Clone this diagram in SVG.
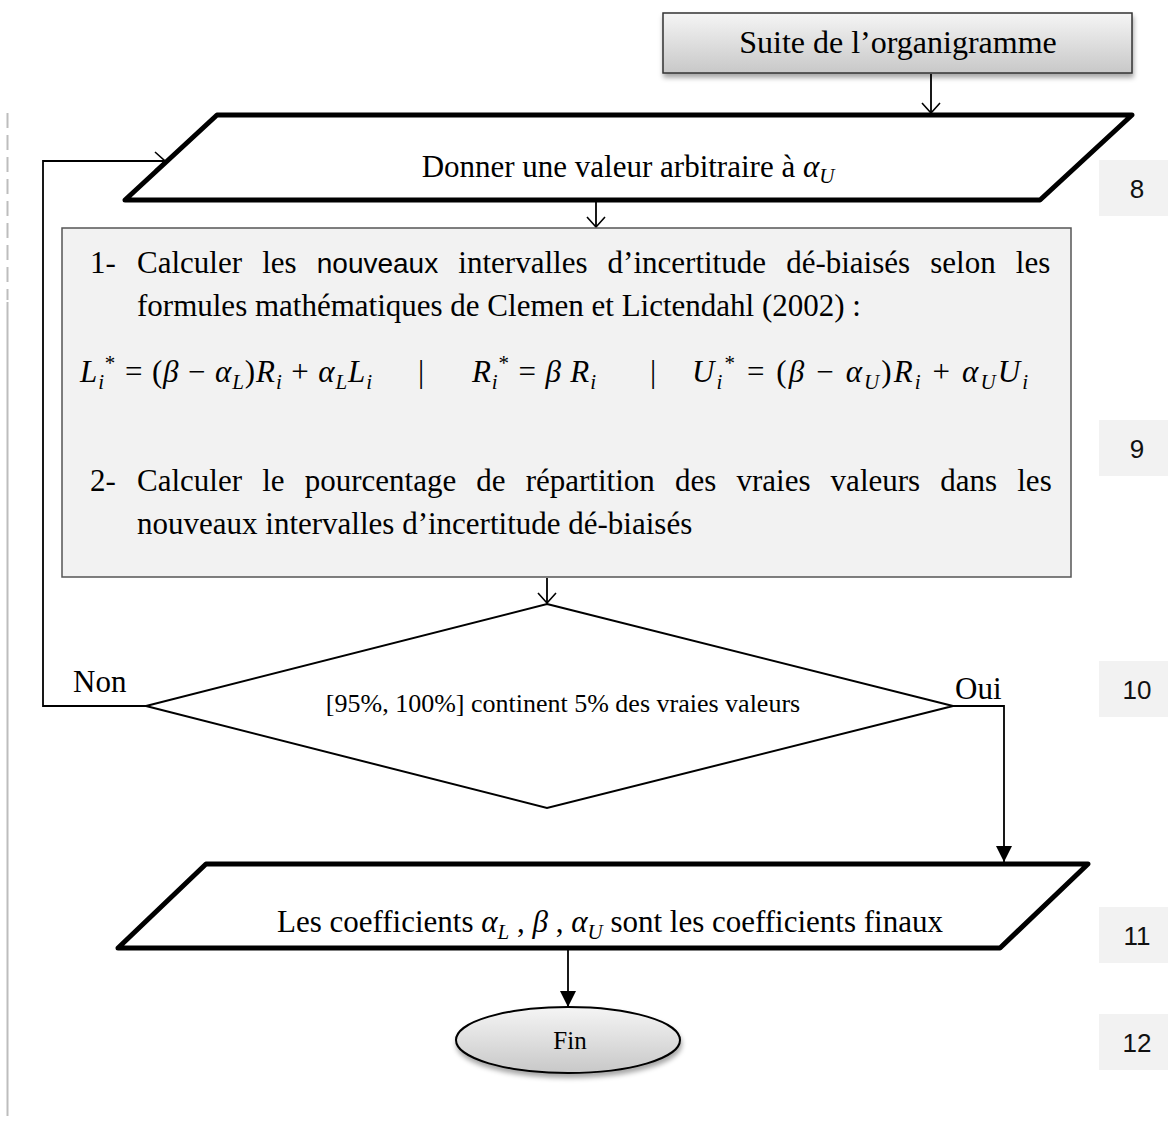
<svg xmlns="http://www.w3.org/2000/svg" width="1168" height="1124" viewBox="0 0 1168 1124">
<style>
  .t { font-family: "Liberation Serif", "Times New Roman", serif; fill: #000; }
  .body { font-size: 31px; }
  .m { font-family: "Liberation Serif", "Times New Roman", serif; font-style: italic; }
  .num { font-family: "Liberation Sans", Arial, sans-serif; font-size: 26px; fill: #111; text-anchor: middle; }
  .numbox { fill: #f2f2f2; }
  .para { fill: #fff; stroke: #000; stroke-width: 5; stroke-linejoin: round; }
  .conn { fill: none; stroke: #000; stroke-width: 1.8; }
</style>
<defs>
  <linearGradient id="gGray" x1="0" y1="0" x2="0" y2="1">
    <stop offset="0" stop-color="#f5f5f5"/>
    <stop offset="1" stop-color="#c8c8c8"/>
  </linearGradient>
  <filter id="shadow" x="-10%" y="-30%" width="120%" height="170%">
    <feDropShadow dx="1" dy="4" stdDeviation="2.5" flood-color="#000" flood-opacity="0.35"/>
  </filter>
  <marker id="vOpen" markerUnits="userSpaceOnUse" viewBox="0 0 12 20" refX="11" refY="10" markerWidth="12" markerHeight="20" orient="auto">
    <path d="M1,1 L11,10 L1,19" fill="none" stroke="#000" stroke-width="1.6"/>
  </marker>
  <marker id="vFill" markerUnits="userSpaceOnUse" viewBox="0 0 16 16" refX="16" refY="8" markerWidth="16" markerHeight="16" orient="auto">
    <path d="M0,0 L16,8 L0,16 z" fill="#000"/>
  </marker>
</defs>

<rect width="1168" height="1124" fill="#fff"/>

<!-- left margin line -->
<line x1="7.5" y1="113" x2="7.5" y2="300" stroke="#bdbdbd" stroke-width="2" stroke-dasharray="15 7"/>
<line x1="7.5" y1="302" x2="7.5" y2="1116" stroke="#bdbdbd" stroke-width="2"/>

<!-- step numbers -->
<g id="num8"><rect class="numbox" x="1099" y="160" width="69" height="56"/><text class="num" x="1137" y="198">8</text></g>
<g id="num9"><rect class="numbox" x="1099" y="420" width="69" height="56"/><text class="num" x="1137" y="458">9</text></g>
<g id="num10"><rect class="numbox" x="1099" y="661" width="69" height="56"/><text class="num" x="1137" y="699">10</text></g>
<g id="num11"><rect class="numbox" x="1099" y="907" width="69" height="56"/><text class="num" x="1137" y="945">11</text></g>
<g id="num12"><rect class="numbox" x="1099" y="1014" width="69" height="56"/><text class="num" x="1137" y="1052">12</text></g>

<!-- connectors -->
<g id="connectors">
  <path class="conn" d="M931,74 L931,113" marker-end="url(#vOpen)"/>
  <path class="conn" d="M596,201 L596,227" marker-end="url(#vOpen)"/>
  <path class="conn" d="M547,578 L547,603" marker-end="url(#vOpen)"/>
  <path class="conn" d="M146,706 L43,706 L43,161 L165,161" marker-end="url(#vOpen)"/>
  <path class="conn" d="M953,706 L1004,706 L1004,862" marker-end="url(#vFill)"/>
  <path class="conn" d="M568,949 L568,1007" marker-end="url(#vFill)"/>
  <text class="t body" x="73" y="692">Non</text>
  <text class="t body" x="955" y="699">Oui</text>
</g>

<!-- Suite de l'organigramme -->
<g id="suite">
  <rect x="663" y="13" width="469" height="60" fill="url(#gGray)" stroke="#333" stroke-width="1.5" filter="url(#shadow)"/>
  <text class="t" font-size="32" x="898" y="53" text-anchor="middle">Suite de l’organigramme</text>
</g>

<!-- Donner une valeur -->
<g id="donner">
  <polygon class="para" points="217,115 1132,115 1040,200 125,200"/>
  <text class="t body" x="628" y="177" text-anchor="middle">Donner une valeur arbitraire à <tspan class="m">α</tspan><tspan class="m" font-size="21" dy="6">U</tspan></text>
</g>

<!-- Calcul box -->
<g id="calcul">
  <rect x="62" y="228" width="1009" height="349" fill="#f2f2f2" stroke="#555" stroke-width="1.5"/>
  <text class="t body" x="90" y="273">1-</text>
  <text class="t body" x="137" y="273" word-spacing="12.4">Calculer les <tspan font-family="Liberation Sans, Arial, sans-serif" font-size="28">nouveaux</tspan> intervalles d’incertitude dé-biaisés selon les</text>
  <text class="t body" x="137" y="316">formules mathématiques de Clemen et Lictendahl (2002) :</text>

  <text class="t body" x="80" y="382" textLength="292" lengthAdjust="spacing"><tspan class="m">L</tspan><tspan class="m" font-size="21" dy="7">i</tspan><tspan font-size="21" dy="-19">*</tspan><tspan dy="12"> =  (</tspan><tspan class="m">β</tspan> − <tspan class="m">α</tspan><tspan class="m" font-size="21" dy="7">L</tspan><tspan dy="-7">)</tspan><tspan class="m">R</tspan><tspan class="m" font-size="21" dy="7">i</tspan><tspan dy="-7"> + </tspan><tspan class="m">α</tspan><tspan class="m" font-size="21" dy="7">L</tspan><tspan class="m" dy="-7">L</tspan><tspan class="m" font-size="21" dy="7">i</tspan></text>
  <text class="t body" x="418" y="382">|</text>
  <text class="t body" x="472" y="382" textLength="124" lengthAdjust="spacing"><tspan class="m">R</tspan><tspan class="m" font-size="21" dy="7">i</tspan><tspan font-size="21" dy="-19">*</tspan><tspan dy="12"> =  </tspan><tspan class="m">β R</tspan><tspan class="m" font-size="21" dy="7">i</tspan></text>
  <text class="t body" x="650" y="382">|</text>
  <text class="t body" x="692" y="382" textLength="336" lengthAdjust="spacing"><tspan class="m">U</tspan><tspan class="m" font-size="21" dy="7">i</tspan><tspan font-size="21" dy="-19">*</tspan><tspan dy="12"> =  (</tspan><tspan class="m">β</tspan> − <tspan class="m">α</tspan><tspan class="m" font-size="21" dy="7">U</tspan><tspan dy="-7">)</tspan><tspan class="m">R</tspan><tspan class="m" font-size="21" dy="7">i</tspan><tspan dy="-7"> + </tspan><tspan class="m">α</tspan><tspan class="m" font-size="21" dy="7">U</tspan><tspan class="m" dy="-7">U</tspan><tspan class="m" font-size="21" dy="7">i</tspan></text>

  <text class="t body" x="90" y="491">2-</text>
  <text class="t body" x="137" y="491" word-spacing="12.4">Calculer le pourcentage de répartition des vraies valeurs dans les</text>
  <text class="t body" x="137" y="534">nouveaux intervalles d’incertitude dé-biaisés</text>
</g>

<!-- Decision -->
<g id="decision">
  <polygon points="547,604 953,706 547,808 146,706" fill="#fff" stroke="#000" stroke-width="2"/>
  <text class="t" font-size="26" x="563" y="712" text-anchor="middle">[95%, 100%] continent 5% des vraies valeurs</text>
</g>

<!-- Final coefficients -->
<g id="coefficients">
  <polygon class="para" points="206,864 1088,864 1000,948 118,948"/>
  <text class="t body" x="610" y="932" text-anchor="middle">Les coefficients  <tspan class="m">α</tspan><tspan class="m" font-size="21" dy="7">L</tspan><tspan dy="-7"> , </tspan><tspan class="m">β</tspan> , <tspan class="m">α</tspan><tspan class="m" font-size="21" dy="7">U</tspan><tspan dy="-7">  sont les coefficients finaux</tspan></text>
</g>

<!-- Fin -->
<g id="fin">
  <ellipse cx="568" cy="1040" rx="112" ry="33" fill="url(#gGray)" stroke="#000" stroke-width="2" filter="url(#shadow)"/>
  <text class="t" font-size="25" x="570" y="1049" text-anchor="middle">Fin</text>
</g>
</svg>
